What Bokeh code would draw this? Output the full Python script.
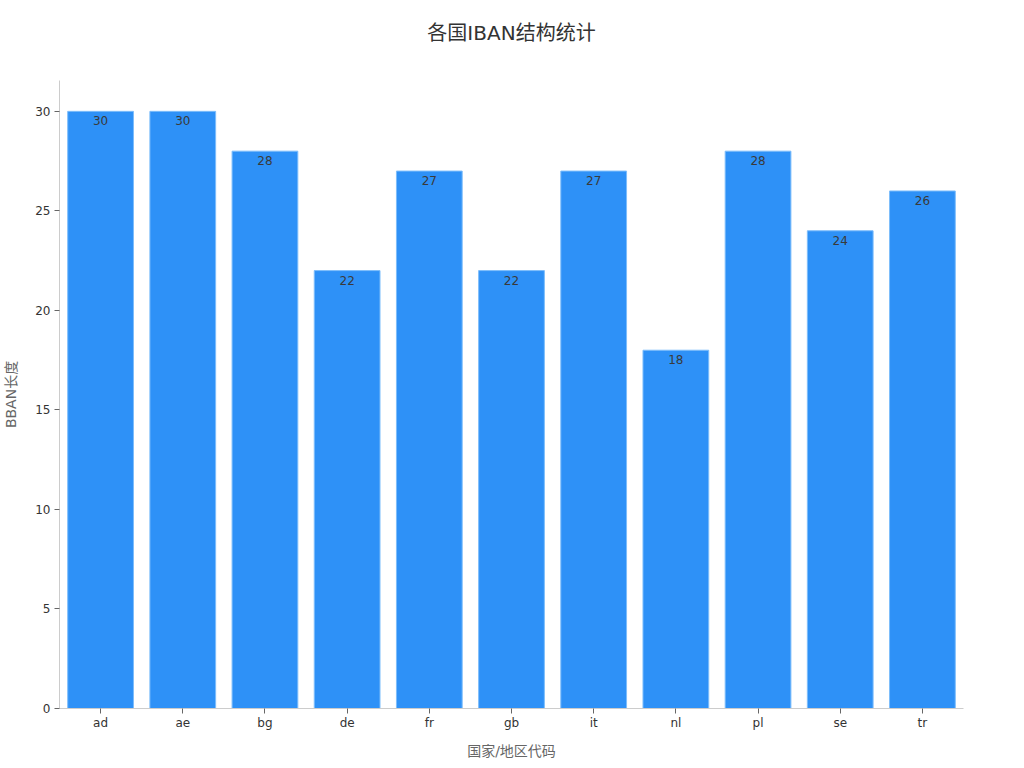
from bokeh.plotting import figure
from bokeh.models import ColumnDataSource, Range1d, SingleIntervalTicker, Title
from bokeh.embed import file_html
from bokeh.resources import INLINE
from bokeh.core.properties import value

countries = ["ad", "ae", "bg", "de", "fr", "gb", "it", "nl", "pl", "se", "tr"]
bban_len = [30, 30, 28, 22, 27, 22, 27, 18, 28, 24, 26]
labels = [str(v) for v in bban_len]
title_text = "各国IBAN结构统计"

FONT = "DejaVu Sans, Noto Sans CJK SC"

src = ColumnDataSource(dict(c=countries, v=bban_len, t=labels))

p = figure(x_range=countries, y_range=Range1d(0, 31.55), width=1008, height=761,
           output_backend="svg", toolbar_location=None, title=None,
           min_border_left=59, min_border_right=45, min_border_top=80, min_border_bottom=10)

p.vbar(x="c", top="v", width=0.8, source=src, fill_color="#2e91f7",
       line_color="#7dbdfb", line_width=1)
p.text(x="c", y="v", text="t", source=src, text_align="center", text_baseline="top",
       y_offset=5, text_font=value(FONT), text_font_size="12px", text_color="#3a3a3a")

# spacer between frame and title (closest to frame)
p.add_layout(Title(text=" ", text_font_size="2px", standoff=13), "above")
p.add_layout(Title(text=title_text, align="center", text_font=FONT, text_font_size="20px",
                   text_font_style="normal", text_color="#333333", offset=0, standoff=37),
             "above")

p.xaxis.axis_label = "国家/地区代码"
p.yaxis.axis_label = "BBAN长度"
for ax in (p.xaxis[0], p.yaxis[0]):
    ax.axis_label_text_font = FONT
    ax.axis_label_text_font_size = "14px"
    ax.axis_label_text_font_style = "normal"
    ax.axis_label_text_color = "#666666"
    ax.major_label_text_font = FONT
    ax.major_label_text_font_size = "12px"
    ax.major_label_text_color = "#333333"
    ax.axis_line_color = "#cccccc"
    ax.major_tick_line_color = "#666666"
    ax.major_tick_in = 0
    ax.major_tick_out = 5
    ax.minor_tick_line_color = None

p.xaxis.major_label_standoff = 2
p.xaxis.axis_label_standoff = 10
p.yaxis.major_label_standoff = 4
p.yaxis.axis_label_standoff = 13

p.yaxis.ticker = SingleIntervalTicker(interval=5, num_minor_ticks=0)
p.x_range.range_padding = 0
p.xgrid.grid_line_color = None
p.ygrid.grid_line_color = None
p.outline_line_color = None

open("out.html", "w").write(file_html(p, INLINE))
